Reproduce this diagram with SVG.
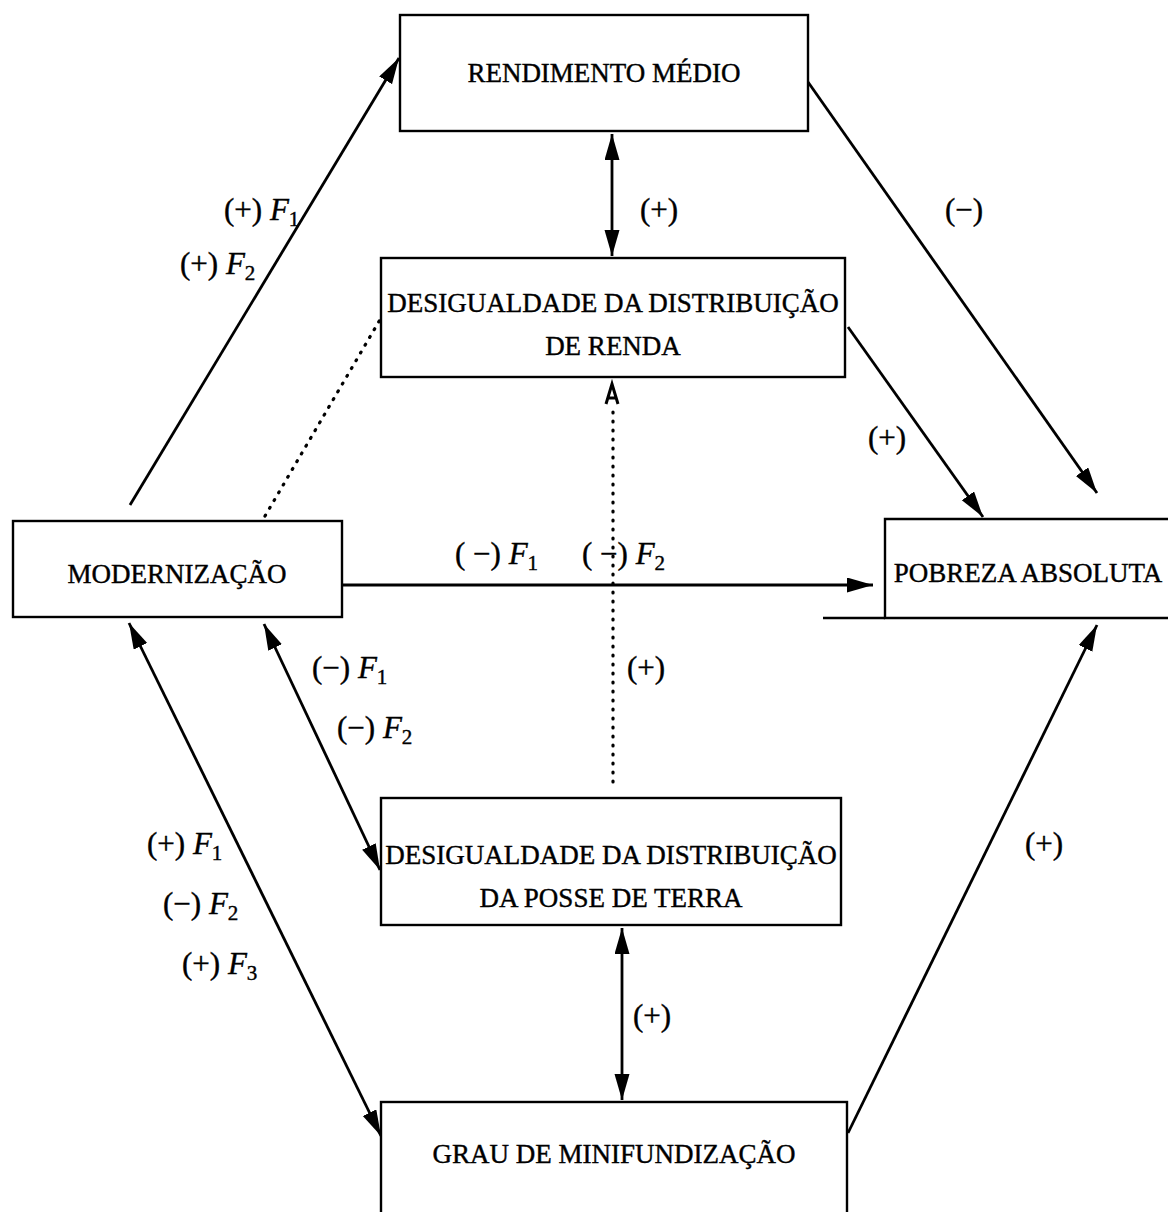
<svg xmlns="http://www.w3.org/2000/svg" width="1168" height="1212" viewBox="0 0 1168 1212">
<style>
.box{fill:#fff;stroke:#000;stroke-width:2.4}
.t{font-family:"Liberation Serif","Times New Roman",serif;font-size:27px;fill:#000;stroke:#000;stroke-width:0.4;text-anchor:middle}
.l{font-family:"Liberation Serif","Times New Roman",serif;font-size:31px;fill:#000;stroke:#000;stroke-width:0.4}
.f{font-style:italic}
.s{font-size:21px}
.c{stroke:#000;stroke-width:2.8;fill:none}
.d{stroke:#000;stroke-width:3.2;fill:none;stroke-dasharray:1 8;stroke-linecap:round}
</style>
<defs>
<marker id="ah" markerUnits="userSpaceOnUse" markerWidth="27" markerHeight="16" refX="26" refY="7.5" orient="auto-start-reverse">
<path d="M0,0 L26,7.5 L0,15 z" fill="#000"/>
</marker>
</defs>
<g id="connectors">
<line class="c" x1="130" y1="505" x2="399" y2="58" marker-end="url(#ah)"/>
<line class="c" x1="612" y1="134" x2="612" y2="256" marker-start="url(#ah)" marker-end="url(#ah)"/>
<line class="c" x1="808" y1="82" x2="1097" y2="493" marker-end="url(#ah)"/>
<line class="c" x1="848" y1="327" x2="983" y2="517" marker-end="url(#ah)"/>
<line class="c" x1="342" y1="585" x2="873" y2="585" marker-end="url(#ah)"/>
<line class="d" x1="265" y1="516" x2="381" y2="318"/>
<line class="d" x1="613" y1="782" x2="613" y2="405"/>
<path d="M606,404 L612,384 L618,404 M608,398 L616,398" fill="none" stroke="#000" stroke-width="3"/>
<line class="c" x1="264" y1="624" x2="380" y2="870" marker-start="url(#ah)" marker-end="url(#ah)"/>
<line class="c" x1="129" y1="623" x2="381" y2="1136" marker-start="url(#ah)" marker-end="url(#ah)"/>
<line class="c" x1="622" y1="928" x2="622" y2="1100" marker-start="url(#ah)" marker-end="url(#ah)"/>
<line class="c" x1="848" y1="1133" x2="1097" y2="625" marker-end="url(#ah)"/>
</g>
<g id="rendimento">
<rect class="box" x="400" y="15" width="408" height="116"/>
<text class="t" x="604" y="82">RENDIMENTO MÉDIO</text>
</g>
<g id="desig-renda">
<rect class="box" x="381" y="258" width="464" height="119"/>
<text class="t" x="613" y="312">DESIGUALDADE DA DISTRIBUIÇÃO</text>
<text class="t" x="613" y="355">DE RENDA</text>
</g>
<g id="modernizacao">
<rect class="box" x="13" y="521" width="329" height="96"/>
<text class="t" x="177" y="583">MODERNIZAÇÃO</text>
</g>
<g id="pobreza">
<path class="box" d="M1175,519 L885,519 L885,618 L1175,618"/>
<line x1="823" y1="618" x2="885" y2="618" stroke="#000" stroke-width="2.4"/>
<text class="t" x="1028" y="582">POBREZA ABSOLUTA</text>
</g>
<g id="desig-posse">
<rect class="box" x="381" y="798" width="460" height="127"/>
<text class="t" x="611" y="864">DESIGUALDADE DA DISTRIBUIÇÃO</text>
<text class="t" x="611" y="907">DA POSSE DE TERRA</text>
</g>
<g id="grau">
<rect class="box" x="381" y="1102" width="466" height="120"/>
<text class="t" x="614" y="1163">GRAU DE MINIFUNDIZAÇÃO</text>
</g>
<g id="labels">
<text class="l" x="224" y="220">(+) <tspan class="f">F</tspan><tspan class="s" dy="6">1</tspan></text>
<text class="l" x="180" y="274">(+) <tspan class="f">F</tspan><tspan class="s" dy="6">2</tspan></text>
<text class="l" x="640" y="220">(+)</text>
<text class="l" x="945" y="220">(−)</text>
<text class="l" x="868" y="448">(+)</text>
<text class="l" x="455" y="564">( −) <tspan class="f">F</tspan><tspan class="s" dy="6">1</tspan></text>
<text class="l" x="582" y="564">( −) <tspan class="f">F</tspan><tspan class="s" dy="6">2</tspan></text>
<text class="l" x="312" y="678">(−) <tspan class="f">F</tspan><tspan class="s" dy="6">1</tspan></text>
<text class="l" x="627" y="678">(+)</text>
<text class="l" x="337" y="738">(−) <tspan class="f">F</tspan><tspan class="s" dy="6">2</tspan></text>
<text class="l" x="147" y="854">(+) <tspan class="f">F</tspan><tspan class="s" dy="6">1</tspan></text>
<text class="l" x="163" y="914">(−) <tspan class="f">F</tspan><tspan class="s" dy="6">2</tspan></text>
<text class="l" x="182" y="974">(+) <tspan class="f">F</tspan><tspan class="s" dy="6">3</tspan></text>
<text class="l" x="1025" y="854">(+)</text>
<text class="l" x="633" y="1026">(+)</text>
</g>
</svg>
